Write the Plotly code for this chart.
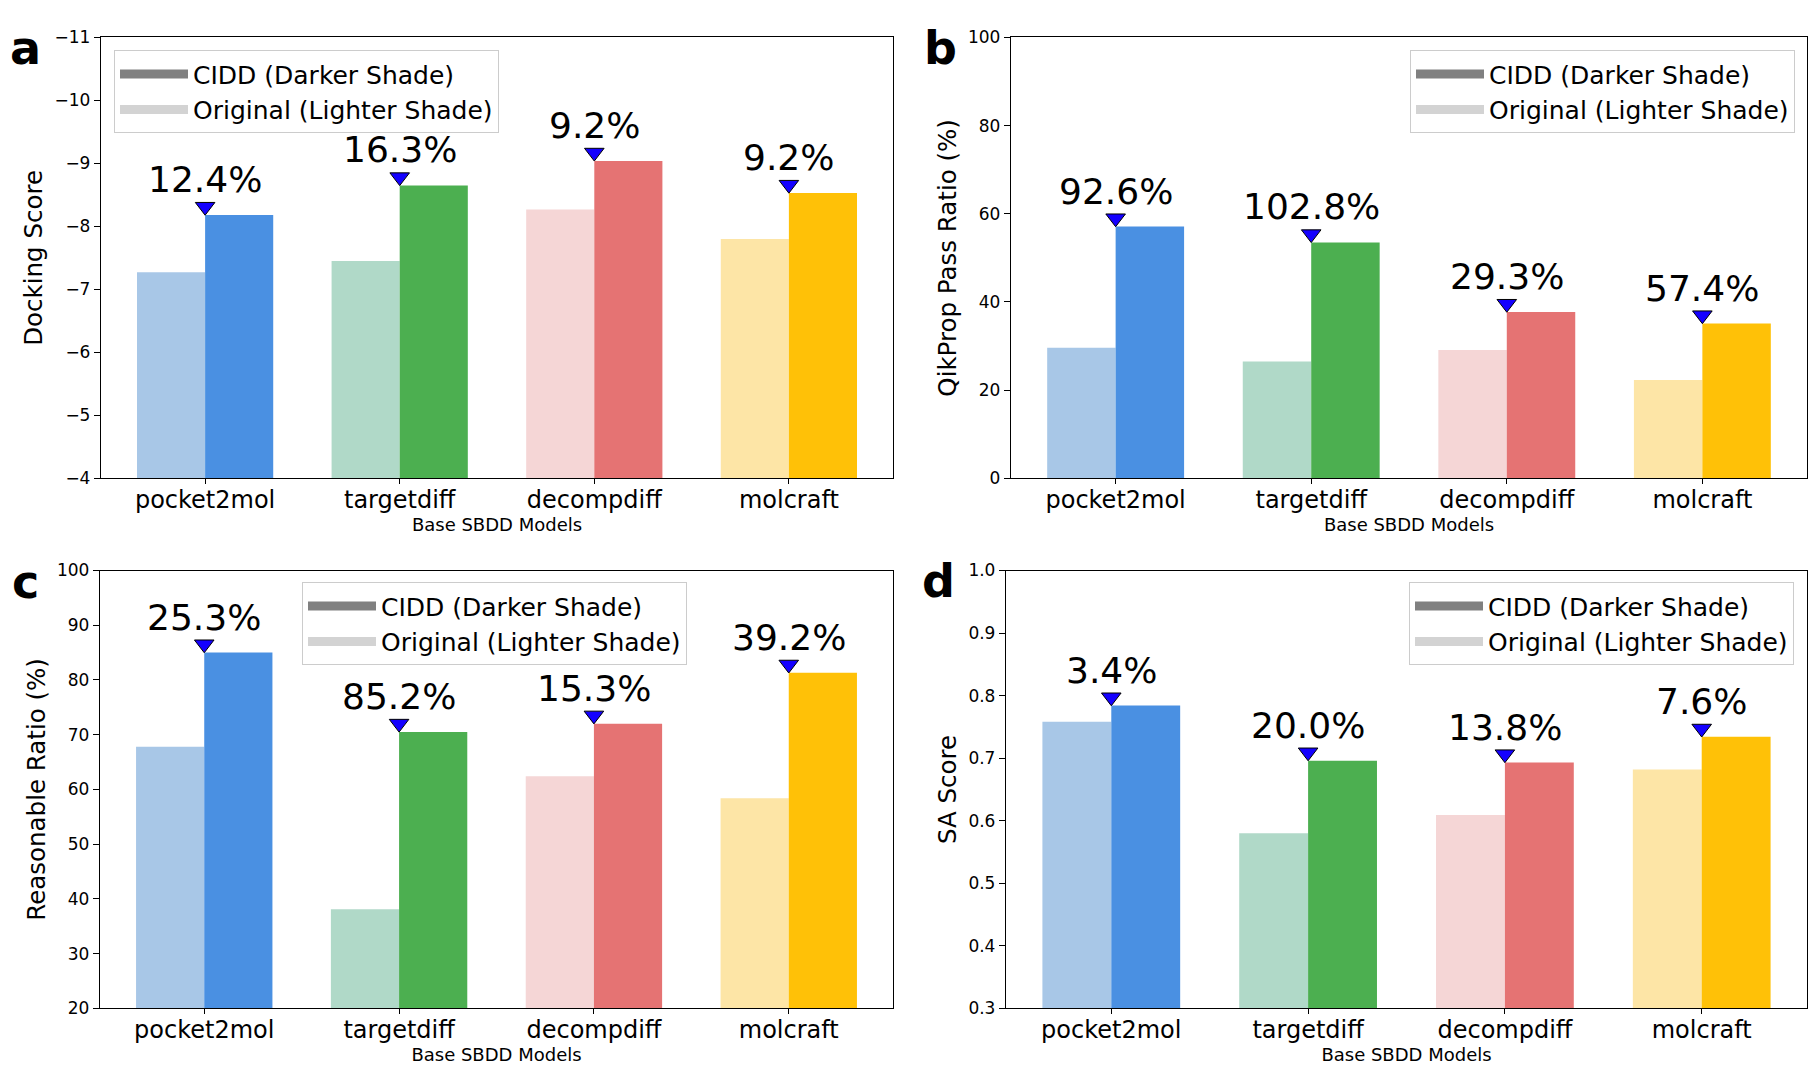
import plotly.graph_objects as go

# ---------------- data ----------------
categories = ["pocket2mol", "targetdiff", "decompdiff", "molcraft"]

dock_orig = [-7.27, -7.45, -8.27, -7.80]
dock_cidd = [-8.18, -8.65, -9.04, -8.53]
dock_gain = ["12.4%", "16.3%", "9.2%", "9.2%"]

qik_orig = [29.6, 26.5, 29.1, 22.3]
qik_cidd = [57.1, 53.5, 37.7, 35.1]
qik_gain = ["92.6%", "102.8%", "29.3%", "57.4%"]

reas_orig = [67.8, 38.1, 62.4, 58.4]
reas_cidd = [85.0, 70.5, 72.0, 81.3]
reas_gain = ["25.3%", "85.2%", "15.3%", "39.2%"]

sa_orig = [0.758, 0.580, 0.609, 0.682]
sa_cidd = [0.784, 0.696, 0.693, 0.734]
sa_gain = ["3.4%", "20.0%", "13.8%", "7.6%"]

dock_ticks = [-11, -10, -9, -8, -7, -6, -5, -4]
qik_ticks = [0, 20, 40, 60, 80, 100]
reas_ticks = [20, 30, 40, 50, 60, 70, 80, 90, 100]
sa_ticks = [0.3, 0.4, 0.5, 0.6, 0.7, 0.8, 0.9, 1.0]

dark_colors = ["#4A90E2", "#4CAF50", "#E57373", "#FFC107"]
light_colors = ["#A8C7E7", "#B0D9C8", "#F5D6D6", "#FDE5A6"]

legend_names = ["CIDD (Darker Shade)", "Original (Lighter Shade)"]
legend_colors = ["#808080", "#D3D3D3"]

# ---------------- layout geometry (pixels) ----------------
W, H = 1820, 1088
FONT = "DejaVu Sans"

panels = [
    dict(key="", orig=dock_orig, cidd=dock_cidd, gain=dock_gain, ticks=dock_ticks,
         rng=[-4, -11], fmt="d", title="Docking Score",
         px=(101, 893), py=(28, 477), letter="a", lx=8, lb=57,
         leg=dict(x=114, y=41, xa="left")),
    dict(key="2", orig=qik_orig, cidd=qik_cidd, gain=qik_gain, ticks=qik_ticks,
         rng=[0, 100], fmt="d", title="QikProp Pass Ratio (%)",
         px=(1011, 1807), py=(28, 477), letter="b", lx=922, lb=57,
         leg=dict(x=1795, y=41, xa="right")),
    dict(key="3", orig=reas_orig, cidd=reas_cidd, gain=reas_gain, ticks=reas_ticks,
         rng=[20, 100], fmt="d", title="Reasonable Ratio (%)",
         px=(100, 893), py=(571, 1017), letter="c", lx=10, lb=601,
         leg=dict(x=302, y=583, xa="left")),
    dict(key="4", orig=sa_orig, cidd=sa_cidd, gain=sa_gain, ticks=sa_ticks,
         rng=[0.3, 1.0], fmt=".1f", title="SA Score",
         px=(1006, 1807), py=(571, 1017), letter="d", lx=920, lb=600,
         leg=dict(x=1794, y=583, xa="right")),
]

fig = go.Figure()
annotations = []
layout = {}

MARK = 17  # triangle marker size (px)

for p in panels:
    k = p["key"]
    xa = "x" + k
    ya = "y" + k
    legname = "legend" + k

    fig.add_trace(go.Bar(x=categories, y=p["orig"], marker=dict(color=light_colors, line=dict(width=0)),
                         xaxis=xa, yaxis=ya, showlegend=False, name="Original"))
    fig.add_trace(go.Bar(x=categories, y=p["cidd"], marker=dict(color=dark_colors, line=dict(width=0)),
                         xaxis=xa, yaxis=ya, showlegend=False, name="CIDD"))

    # triangle markers, tip touching the CIDD bar top
    h_px = p["py"][1] - p["py"][0]
    per_px = (p["rng"][1] - p["rng"][0]) / h_px
    tri_y = [v + per_px * MARK / 2 for v in p["cidd"]]
    fig.add_trace(go.Scatter(x=categories, y=tri_y, mode="markers", xaxis=xa, yaxis=ya,
                             marker=dict(symbol="triangle-down", size=MARK, color="#1400FF",
                                         line=dict(color="black", width=1)),
                             showlegend=False, cliponaxis=False, hoverinfo="skip"))

    # legend proxy lines
    for name, col in zip(legend_names, legend_colors):
        fig.add_trace(go.Scatter(x=[None], y=[None], mode="lines", name=name,
                                 line=dict(color=col, width=9), xaxis=xa, yaxis=ya,
                                 legend=legname))

    # percentage labels
    for c, v, g in zip(categories, p["cidd"], p["gain"]):
        annotations.append(dict(x=c, y=v, xref=xa, yref=ya, text=g, showarrow=False,
                                yanchor="bottom", xanchor="center", yshift=13,
                                font=dict(family=FONT, size=36, color="black")))

    # panel letter
    annotations.append(dict(x=p["lx"] / W, y=1 - (p["lb"] + 11) / H, xref="paper", yref="paper",
                            text="<b>" + p["letter"] + "</b>", showarrow=False,
                            xanchor="left", yanchor="bottom",
                            font=dict(family=FONT, size=46, color="black")))

    axis_common = dict(showline=True, mirror=True, linecolor="black", linewidth=1.3,
                       ticks="outside", tickwidth=1.3, tickcolor="black",
                       showgrid=False, zeroline=False)

    layout["xaxis" + k] = dict(
        domain=[p["px"][0] / W, p["px"][1] / W], anchor=ya, range=[-0.535, 3.535],
        type="category", ticklen=5, ticklabelstandoff=-5,
        tickfont=dict(family=FONT, size=24, color="black"),
        title=dict(text="Base SBDD Models", font=dict(family=FONT, size=18, color="black"), standoff=2),
        **axis_common)
    layout["yaxis" + k] = dict(
        domain=[1 - p["py"][1] / H, 1 - p["py"][0] / H], anchor=xa, range=p["rng"],
        tickvals=p["ticks"], tickformat=p["fmt"], ticklen=6,
        tickfont=dict(family=FONT, size=17, color="black"),
        title=dict(text=p["title"], font=dict(family=FONT, size=24.5, color="black"), standoff=4),
        **axis_common)

    lg = p["leg"]
    layout[legname] = dict(
        x=lg["x"] / W, y=1 - lg["y"] / H, xref="paper", yref="paper",
        xanchor=lg["xa"], yanchor="top", bgcolor="rgba(255,255,255,0.8)",
        bordercolor="#CCCCCC", borderwidth=1, font=dict(family=FONT, size=25, color="black"),
        itemwidth=68)

fig.update_layout(
    width=W, height=H, margin=dict(l=0, r=0, t=0, b=0),
    paper_bgcolor="white", plot_bgcolor="white",
    barmode="group", bargap=0.3, bargroupgap=0,
    font=dict(family=FONT, color="black"),
    annotations=annotations, **layout)

fig.write_html("out.html", config={"displayModeBar": False},
               post_script="document.body.style.margin='0';document.body.style.overflow='hidden';")
